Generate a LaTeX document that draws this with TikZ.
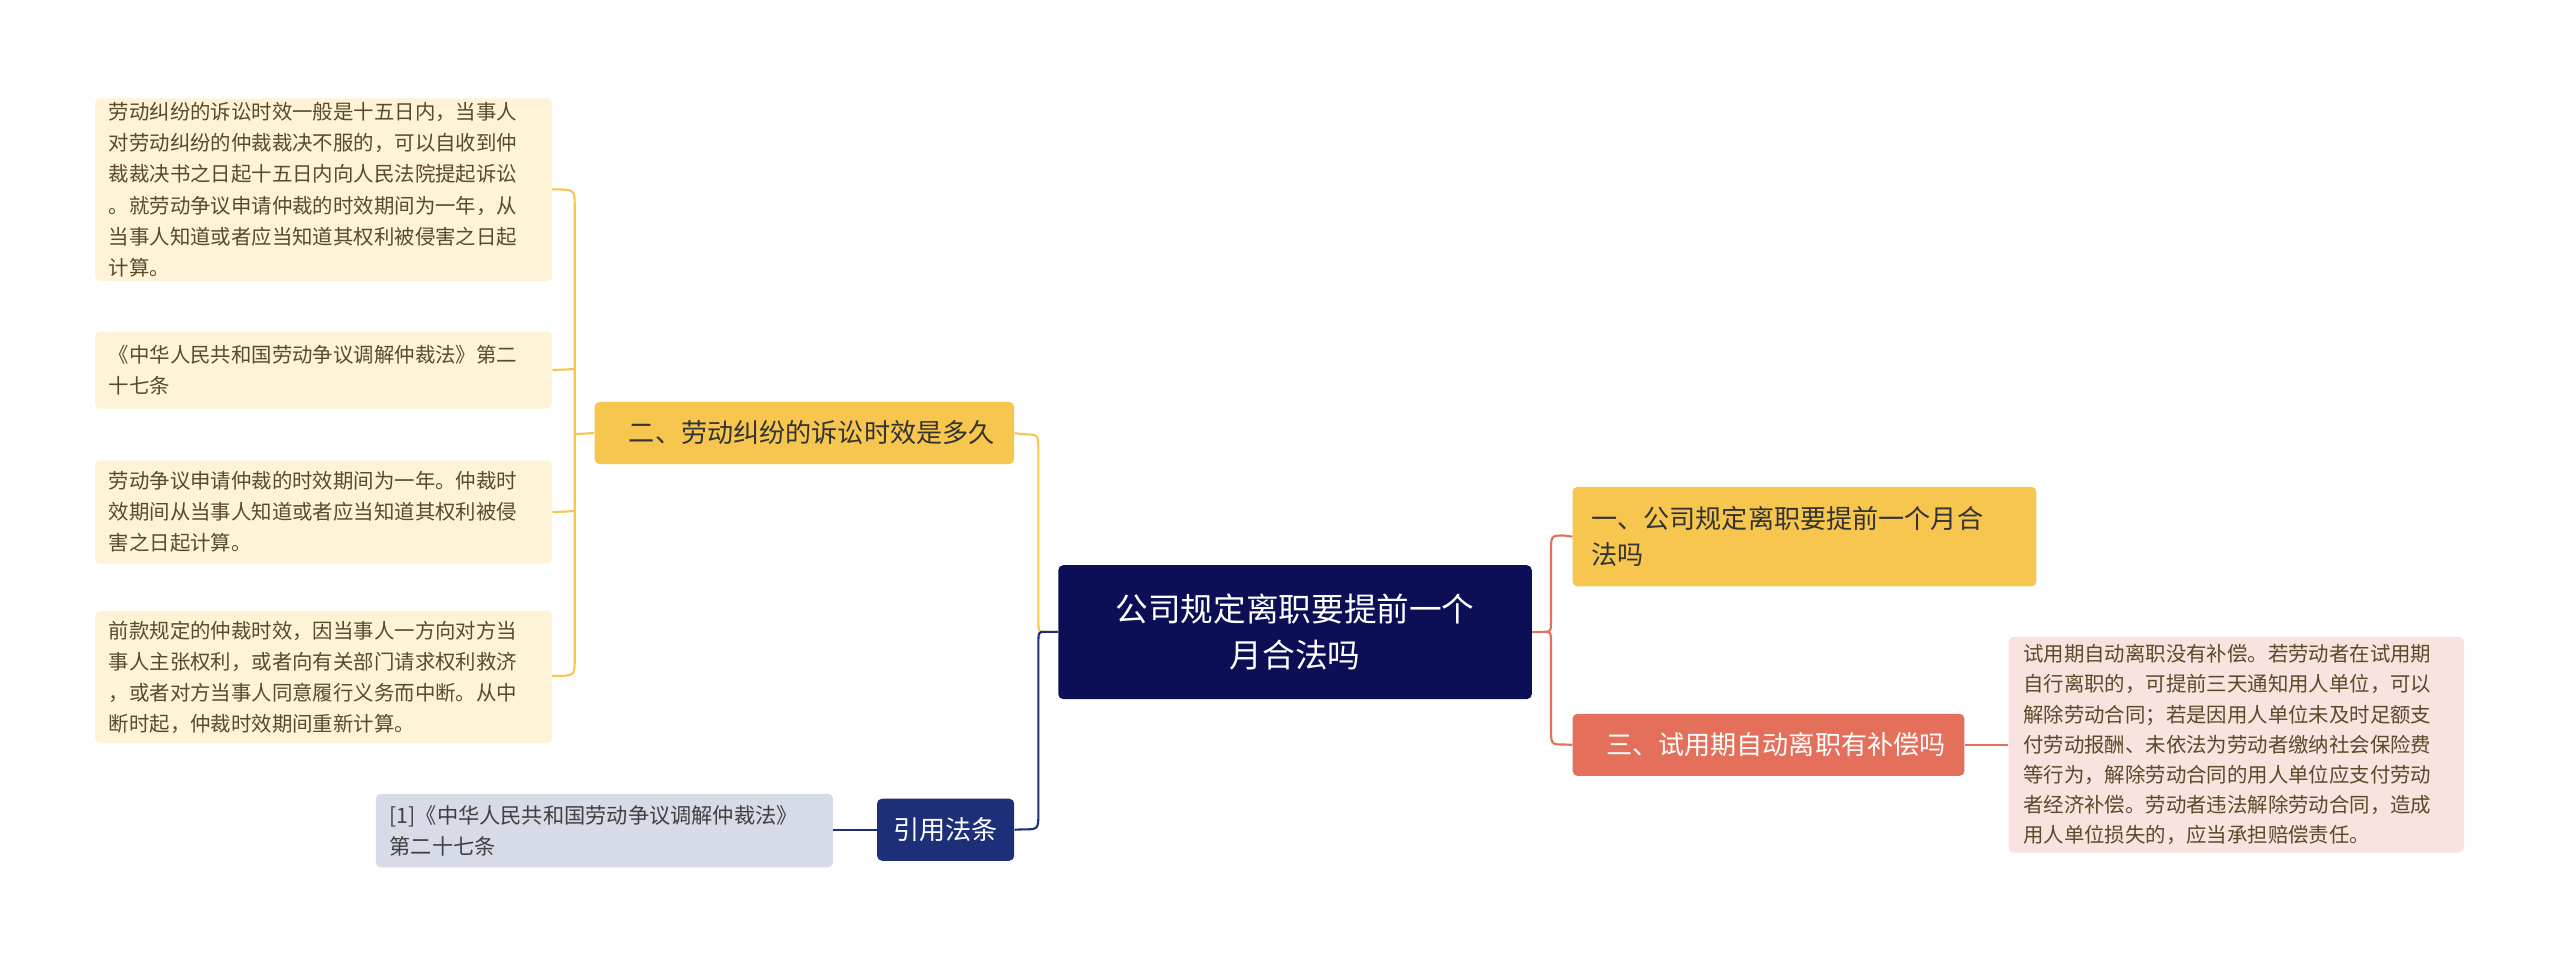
\documentclass[tikz,border=0pt]{standalone}
\usepackage{fontspec}
\setmainfont{Noto Sans CJK SC}
\begin{document}
\begin{tikzpicture}[x=1pt,y=-1pt,
 box/.style={rounded corners=3pt,inner sep=0pt,anchor=north west,align=left},
 leaf/.style={box,fill=leafc,text=leaft,font=\fontsize{12.5}{19}\selectfont},
 yl/.style={draw=ylc,line width=1.3pt},
 rd/.style={draw=rdc,line width=1.3pt},
 nv/.style={draw=nvc,line width=1.3pt}]
\definecolor{leafc}{HTML}{FEF3D6}\definecolor{leaft}{HTML}{5A4A2A}
\definecolor{ylc}{HTML}{F7C64E}\definecolor{rdc}{HTML}{E4705B}
\definecolor{nvc}{HTML}{1E2F7A}\definecolor{cen}{HTML}{0C0E56}
\useasboundingbox (0,0) rectangle (1568,590);
\fill[white] (0,0) rectangle (1568,590);
% central
\node[box,fill=cen,text=white,minimum width=290pt,minimum height=82pt,align=center,font=\fontsize{20}{28}\selectfont] (c) at (648,346) {\begin{minipage}{290pt}\centering 公司规定离职要提前一个\\月合法吗\end{minipage}};
\node[box,fill=ylc,text=black!80,minimum width=257pt,minimum height=38pt,font=\fontsize{16}{22}\selectfont] (b2) at (364,246) {\hspace{9pt}二、劳动纠纷的诉讼时效是多久};
\node[box,fill=nvc,text=white,minimum width=84pt,minimum height=38pt,align=center,font=\fontsize{16}{22}\selectfont] (bref) at (537,489) {\makebox[84pt]{引用法条}};
\node[box,fill=ylc,text=black!80,minimum width=284pt,minimum height=61pt,font=\fontsize{16}{22}\selectfont] (b1) at (963,298) {\hspace{9pt}\begin{minipage}{270pt}一、公司规定离职要提前一个月合\\法吗\end{minipage}};
\node[box,fill=rdc,text=white,minimum width=240pt,minimum height=38pt,font=\fontsize{16}{22}\selectfont] (b3) at (963,437) {\hspace{9pt}三、试用期自动离职有补偿吗};
% right leaf
\node[box,fill=rdc!20,text=leaft,minimum width=279pt,minimum height=132pt,font=\fontsize{12.5}{18.5}\selectfont] (r1) at (1230,390) {\hspace{7pt}\begin{minipage}{268pt}试用期自动离职没有补偿。若劳动者在试用期\\自行离职的，可提前三天通知用人单位，可以\\解除劳动合同；若是因用人单位未及时足额支\\付劳动报酬、未依法为劳动者缴纳社会保险费\\等行为，解除劳动合同的用人单位应支付劳动\\者经济补偿。劳动者违法解除劳动合同，造成\\用人单位损失的，应当承担赔偿责任。\end{minipage}};
% left leaves
\node[leaf,minimum width=280pt,minimum height=112pt] (l1) at (58,60) {\hspace{7pt}\begin{minipage}{270pt}劳动纠纷的诉讼时效一般是十五日内，当事人\\对劳动纠纷的仲裁裁决不服的，可以自收到仲\\裁裁决书之日起十五日内向人民法院提起诉讼\\。就劳动争议申请仲裁的时效期间为一年，从\\当事人知道或者应当知道其权利被侵害之日起\\计算。\end{minipage}};
\node[leaf,minimum width=280pt,minimum height=47pt] (l2) at (58,203) {\hspace{7pt}\begin{minipage}{270pt}《中华人民共和国劳动争议调解仲裁法》第二\\十七条\end{minipage}};
\node[leaf,minimum width=280pt,minimum height=63pt] (l3) at (58,282) {\hspace{7pt}\begin{minipage}{270pt}劳动争议申请仲裁的时效期间为一年。仲裁时\\效期间从当事人知道或者应当知道其权利被侵\\害之日起计算。\end{minipage}};
\node[leaf,minimum width=280pt,minimum height=81pt] (l4) at (58,374) {\hspace{7pt}\begin{minipage}{270pt}前款规定的仲裁时效，因当事人一方向对方当\\事人主张权利，或者向有关部门请求权利救济\\，或者对方当事人同意履行义务而中断。从中\\断时起，仲裁时效期间重新计算。\end{minipage}};
\node[box,fill=nvc!18,text=black!75,minimum width=280pt,minimum height=45pt,font=\fontsize{13}{19}\selectfont] (lr) at (230,486) {\hspace{7pt}\begin{minipage}{270pt}[1]《中华人民共和国劳动争议调解仲裁法》\\第二十七条\end{minipage}};
% connectors
\draw[yl] (c.west) -- ++(-4,0) coordinate (j1) to[out=90,in=0] ++(0,0);
\draw[yl] (648,387) -- (640,387) .. controls (636,387) and (636,387) .. (636,380) -- (636,276) .. controls (636,266) .. (626,266) -- (b2.east);
\draw[nv] (648,387) -- (640,387) .. controls (636,387) .. (636,395) -- (636,498) .. controls (636,508) .. (626,508) -- (bref.east);
\draw[rd] (c.east) -- (946,387) .. controls (950,387) .. (950,378) -- (950,338) .. controls (950,328) .. (958,328) -- (b1.west);
\draw[rd] (946,387) .. controls (950,387) .. (950,396) -- (950,446) .. controls (950,456) .. (958,456) -- (b3.west);
\draw[rd] (b3.east) -- (r1.west|-b3.east);
\draw[nv] (bref.west) -- (lr.east|-bref.west);
\coordinate (k) at (352,266);
\draw[yl] (b2.west) -- (k);
\foreach \n/\y in {l1/116,l2/226,l3/313,l4/414}{
 \draw[yl] (k) -- (352,266);
}
\draw[yl] (338,116) .. controls (352,116) .. (352,126) -- (352,404) .. controls (352,414) .. (338,414);
\draw[yl] (l2.east) -- (352,226);
\draw[yl] (l3.east) -- (352,313);
\end{tikzpicture}
\end{document}
